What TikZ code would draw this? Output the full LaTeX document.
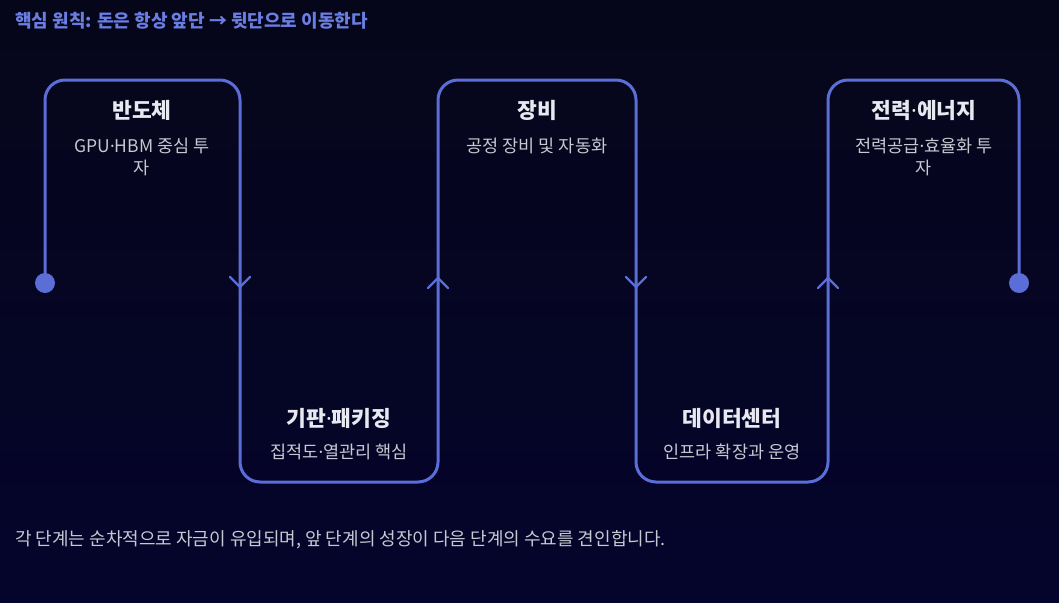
\documentclass[tikz,border=0pt]{standalone}
\usepackage{fontspec}
\newfontfamily\kr{Noto Sans CJK KR}
\newfontfamily\lat{Noto Sans}
\setmainfont{Noto Sans CJK KR}
\newcommand{\mdot}{{\lat ·}}
\definecolor{bgtop}{HTML}{06061A}
\definecolor{bgbot}{HTML}{05042C}
\definecolor{flow}{HTML}{5B6ED8}
\definecolor{headc}{HTML}{6A7EE2}
\definecolor{titc}{HTML}{E8E8F0}
\definecolor{subc}{HTML}{C8C8D2}
\begin{document}
\begin{tikzpicture}[x=1pt,y=-1pt,
  flowline/.style={draw=flow,line width=3pt,rounded corners=20pt},
  chev/.style={draw=flow,line width=2.2pt,line cap=round,line join=round},
  enddot/.style={circle,fill=flow,inner sep=0pt,minimum size=20pt},
  stitle/.style={text=titc,font=\kr\bfseries\fontsize{21.5}{26}\selectfont,inner sep=0pt},
  ssub/.style={text=subc,font=\kr\fontsize{17.5}{22}\selectfont,inner sep=0pt,align=center},
  head/.style={text=headc,font=\kr\bfseries\fontsize{18}{22}\selectfont,inner sep=0pt,anchor=west},
  foot/.style={text=subc,font=\kr\fontsize{18}{22}\selectfont,inner sep=0pt,anchor=west}]
\useasboundingbox (0,0) rectangle (1059,602);
\shade[top color=bgtop,bottom color=bgbot] (0,0) rectangle (1059,602);
% corners
\coordinate (s) at (45,283);
\coordinate (a1) at (45,80);
\coordinate (a2) at (240,80);
\coordinate (b1) at (240,482);
\coordinate (b2) at (438,482);
\coordinate (c1) at (438,80);
\coordinate (c2) at (636,80);
\coordinate (d1) at (636,482);
\coordinate (d2) at (828,482);
\coordinate (e1) at (828,80);
\coordinate (e2) at (1019,80);
\coordinate (t) at (1019,283);
\draw[flowline] (s) -- (a1) -- (a2) -- (b1) -- (b2) -- (c1) -- (c2) -- (d1) -- (d2) -- (e1) -- (e2) -- (t);
\node[enddot] (sd) at (s) {};
\node[enddot] (td) at (t) {};
% chevrons
\draw[chev] (230,277) -- (240,287) -- (250,277);
\draw[chev] (428,288) -- (438,278) -- (448,288);
\draw[chev] (626,277) -- (636,287) -- (646,277);
\draw[chev] (818,288) -- (828,278) -- (838,288);
% texts
\node[head] (h) at (15,21) {핵심 원칙: 돈은 항상 앞단 → 뒷단으로 이동한다};
\node[stitle] (t1) at (142,110) {반도체};
\node[ssub] (s1) at (142,157) {GPU\mdot HBM 중심 투\\자};
\node[stitle] (t2) at (339,418) {기판\mdot 패키징};
\node[ssub] (s2) at (339,452) {집적도\mdot 열관리 핵심};
\node[stitle] (t3) at (537,110) {장비};
\node[ssub] (s3) at (537,146) {공정 장비 및 자동화};
\node[stitle] (t4) at (732,418) {데이터센터};
\node[ssub] (s4) at (732,452) {인프라 확장과 운영};
\node[stitle] (t5) at (924,110) {전력\mdot 에너지};
\node[ssub] (s5) at (924,157) {전력공급\mdot 효율화 투\\자};
\node[foot] (f) at (15,540) {각 단계는 순차적으로 자금이 유입되며, 앞 단계의 성장이 다음 단계의 수요를 견인합니다.};
\end{tikzpicture}
\end{document}
